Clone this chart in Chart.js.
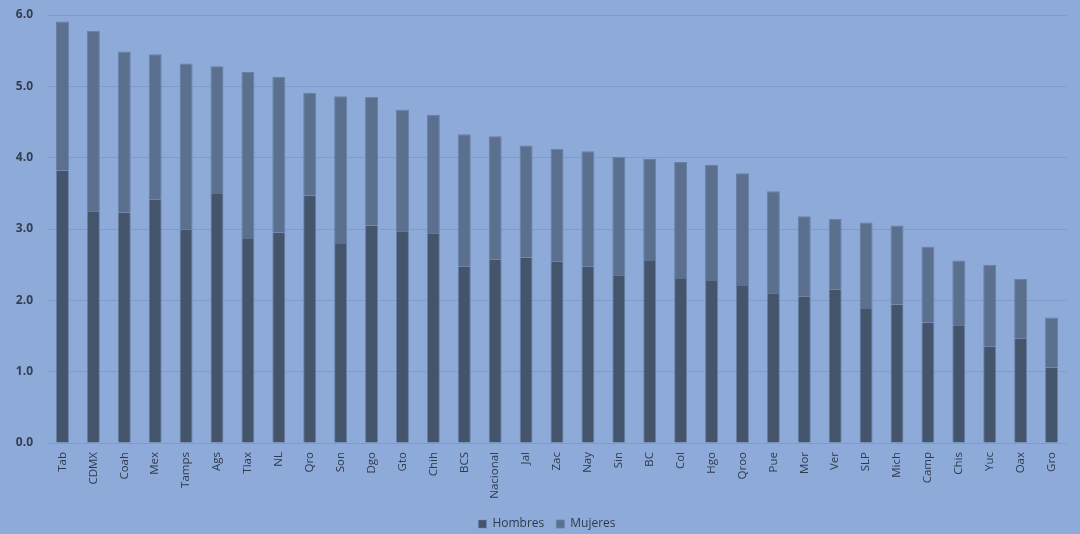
<!DOCTYPE html>
<html>
<head>
<meta charset="utf-8">
<script src="https://cdn.jsdelivr.net/npm/chart.js@4/dist/chart.umd.min.js"></script>
<style>
  html, body { margin: 0; padding: 0; background: #8eaad9; }
  #wrap { width: 1080px; height: 534px; position: relative; }
</style>
</head>
<body>
<div id="wrap"><canvas id="c" width="1080" height="534"></canvas></div>
<script>
const categories = ["Tab","CDMX","Coah","Mex","Tamps","Ags","Tlax","NL","Qro","Son","Dgo","Gto","Chih","BCS","Nacional","Jal","Zac","Nay","Sin","BC","Col","Hgo","Qroo","Pue","Mor","Ver","SLP","Mich","Camp","Chis","Yuc","Oax","Gro"];
const hombres = [3.82,3.25,3.23,3.41,2.99,3.49,2.86,2.95,3.47,2.79,3.05,2.97,2.94,2.47,2.57,2.60,2.54,2.47,2.35,2.55,2.30,2.27,2.20,2.10,2.05,2.15,1.88,1.94,1.69,1.65,1.35,1.46,1.06];
const mujeres = [2.09,2.53,2.26,2.04,2.33,1.79,2.34,2.18,1.44,2.07,1.80,1.70,1.66,1.86,1.73,1.57,1.58,1.62,1.66,1.43,1.64,1.63,1.58,1.43,1.13,0.99,1.21,1.11,1.06,0.91,1.15,0.84,0.70];
const yTicks = [0,1,2,3,4,5,6];

const bgPlugin = {
  id: 'bg',
  beforeDraw(chart) {
    const ctx = chart.ctx;
    ctx.save();
    ctx.fillStyle = '#8eaad9';
    ctx.fillRect(0, 0, chart.width, chart.height);
    ctx.restore();
  }
};

new Chart(document.getElementById('c'), {
  type: 'bar',
  data: {
    labels: categories,
    datasets: [
      {
        label: 'Hombres',
        data: hombres,
        backgroundColor: '#44546b',
        borderColor: '#6a80a5',
        borderWidth: {left: 1, right: 1, top: 0, bottom: 0},
        borderSkipped: false,
        barPercentage: 0.42,
        categoryPercentage: 1.0
      },
      {
        label: 'Mujeres',
        data: mujeres,
        backgroundColor: '#5b6f8f',
        borderColor: '#6a80a5',
        borderWidth: {left: 1, right: 1, top: 1, bottom: 0},
        borderSkipped: false,
        barPercentage: 0.42,
        categoryPercentage: 1.0
      }
    ]
  },
  options: {
    responsive: false,
    animation: false,
    devicePixelRatio: 1,
    layout: { padding: { left: 14, right: 0, top: 15, bottom: -6 } },
    plugins: {
      legend: {
        position: 'bottom',
        labels: {
          boxWidth: 8, boxHeight: 8, padding: 12,
          color: '#2f3a4c',
          font: { family: 'Open Sans', size: 12 }
        }
      },
      tooltip: { enabled: false }
    },
    scales: {
      x: {
        stacked: true,
        grid: { display: false, drawTicks: false },
        border: { display: false },
        afterFit(scale) { scale.height = 63; scale.paddingLeft = 0; scale.paddingRight = 0; },
        ticks: {
          color: '#2f3a4c',
          font: { family: 'Open Sans', size: 11.5 },
          minRotation: 90, maxRotation: 90,
          autoSkip: false,
          padding: 9
        }
      },
      y: {
        stacked: true,
        min: 0, max: 6,
        afterBuildTicks(scale) { scale.ticks = yTicks.map(v => ({ value: v })); },
        afterFit(scale) { scale.width = 33; scale.paddingTop = 0; scale.paddingBottom = 0; },
        grid: { color: '#7f9bca', lineWidth: 1, drawTicks: false },
        border: { display: false },
        ticks: {
          color: '#333e50',
          font: { family: 'Open Sans', size: 12, weight: 'bold' },
          padding: 14,
          callback: v => Number(v).toFixed(1)
        }
      },
      yR: {
        position: 'right',
        display: true,
        grid: { display: false, drawTicks: false },
        border: { display: false },
        ticks: { display: false },
        afterFit(scale) { scale.width = 13; scale.paddingTop = 0; scale.paddingBottom = 0; }
      }
    }
  },
  plugins: [bgPlugin]
});
</script>
</body>
</html>
